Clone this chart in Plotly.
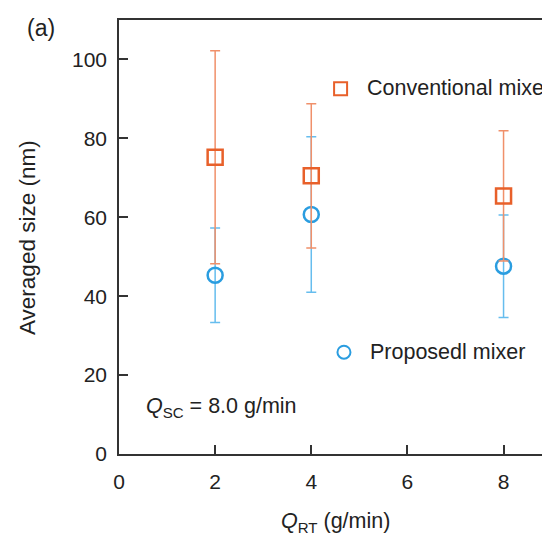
import plotly.graph_objects as go

# Data
q_rt = [2, 4, 8]
conv_size = [75.2, 70.5, 65.4]
conv_err = [27.0, 18.3, 16.5]
prop_size = [45.3, 60.7, 47.6]
prop_err = [12.0, 19.7, 13.0]

x_ticks = [0, 2, 4, 6, 8]
y_ticks = [0, 20, 40, 60, 80, 100]

ORANGE = "#E8602A"
ORANGE_ERR = "#F0906A"
BLUE = "#2A9DE0"
BLUE_ERR = "#66BDEE"
AXIS = "#333333"
FONT = "Liberation Sans, Arial, Helvetica, sans-serif"

fig = go.Figure()

fig.add_trace(go.Scatter(
    x=q_rt, y=prop_size, mode="markers", name="Proposedl mixer",
    marker=dict(symbol="circle-open", size=15, color=BLUE, line=dict(width=2.5, color=BLUE)),
    error_y=dict(type="data", array=prop_err, visible=True, color=BLUE_ERR, thickness=1.5, width=5),
))
fig.add_trace(go.Scatter(
    x=q_rt, y=conv_size, mode="markers", name="Conventional mixer",
    marker=dict(symbol="square-open", size=15, color=ORANGE, line=dict(width=2.5, color=ORANGE)),
    error_y=dict(type="data", array=conv_err, visible=True, color=ORANGE_ERR, thickness=1.5, width=5),
))

fig.update_layout(
    width=542, height=538,
    margin=dict(l=119, r=0, t=20, b=84),
    plot_bgcolor="white", paper_bgcolor="white",
    showlegend=False,
    font=dict(family=FONT, size=21, color="#222222"),
)

fig.update_xaxes(
    range=[0, 8.8], tickvals=x_ticks, ticktext=[str(v) for v in x_ticks],
    ticks="inside", ticklen=9, tickwidth=1.5, tickcolor=AXIS,
    showline=True, linewidth=1.5, linecolor=AXIS, mirror=True,
    showgrid=False, zeroline=False, ticklabelstandoff=8,
)
fig.update_yaxes(
    range=[0, 110], tickvals=y_ticks, ticktext=[str(v) for v in y_ticks],
    ticks="inside", ticklen=9, tickwidth=1.5, tickcolor=AXIS,
    showline=True, linewidth=1.5, linecolor=AXIS, mirror=False,
    showgrid=False, zeroline=False, ticklabelstandoff=6,
)

# legend keys
fig.add_shape(type="rect", xref="x", yref="y", xsizemode="pixel", ysizemode="pixel",
              xanchor=4.61, yanchor=92.6, x0=-6.5, x1=6.5, y0=-6.5, y1=6.5,
              line=dict(color=ORANGE, width=2), fillcolor="rgba(0,0,0,0)")
fig.add_shape(type="circle", xref="x", yref="y", xsizemode="pixel", ysizemode="pixel",
              xanchor=4.68, yanchor=25.8, x0=-6.5, x1=6.5, y0=-6.5, y1=6.5,
              line=dict(color=BLUE, width=2), fillcolor="rgba(0,0,0,0)")

annotations = [
    dict(text="Conventional mixer", x=5.11, y=92.7, xref="x", yref="y",
         xanchor="left", yanchor="middle", showarrow=False, font=dict(size=21.5)),
    dict(text="Proposedl mixer", x=5.18, y=25.8, xref="x", yref="y",
         xanchor="left", yanchor="middle", showarrow=False, font=dict(size=21.5)),
    dict(text="<i>Q</i><sub>SC</sub> = 8.0 g/min", x=0.52, y=11.8, xref="x", yref="y",
         xanchor="left", yanchor="middle", showarrow=False, font=dict(size=21.5)),
    dict(text="<i>Q</i><sub>RT</sub> (g/min)", x=4.5, y=-0.157, xref="x", yref="paper",
         xanchor="center", yanchor="middle", showarrow=False, font=dict(size=21.5)),
    dict(text="Averaged size (nm)", x=-0.2175, y=0.5, xref="paper", yref="paper",
         xanchor="center", yanchor="middle", textangle=-90, showarrow=False, font=dict(size=22.5)),
    dict(text="(a)", x=-0.184, y=0.982, xref="paper", yref="paper",
         xanchor="center", yanchor="middle", showarrow=False, font=dict(size=23)),
]
fig.update_layout(annotations=annotations)

fig.write_html("out.html", post_script="document.body.style.margin='0';",
               config={"displayModeBar": False})
